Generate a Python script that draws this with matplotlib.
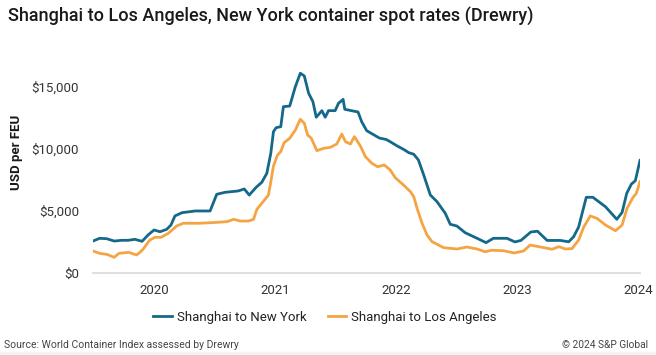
import matplotlib.pyplot as plt
import matplotlib.dates as mdates
import pandas as pd

plt.rcParams['font.family'] = ['Roboto', 'DejaVu Sans']

# weekly-ish readings, USD per FEU
ny_dates = ['2019-07-01', '2019-07-21', '2019-08-11', '2019-09-03', '2019-09-25', '2019-10-15',
            '2019-11-04', '2019-11-26', '2019-12-14', '2020-01-01', '2020-01-19', '2020-02-08',
            '2020-02-21', '2020-03-04', '2020-03-25', '2020-05-04', '2020-06-18', '2020-07-08',
            '2020-08-02', '2020-09-11', '2020-09-29', '2020-10-14', '2020-11-04', '2020-11-21',
            '2020-12-06', '2020-12-18', '2020-12-26', '2021-01-03', '2021-01-17', '2021-01-25',
            '2021-02-13', '2021-03-02', '2021-03-17', '2021-03-29', '2021-04-11', '2021-04-24',
            '2021-05-04', '2021-05-21', '2021-05-31', '2021-06-10', '2021-06-30', '2021-07-10',
            '2021-07-24', '2021-07-29', '2021-09-07', '2021-09-18', '2021-10-03', '2021-11-10',
            '2021-12-01', '2021-12-13', '2022-01-03', '2022-01-22', '2022-02-07', '2022-02-22',
            '2022-03-08', '2022-03-24', '2022-04-13', '2022-05-03', '2022-05-28', '2022-06-12',
            '2022-07-02', '2022-07-27', '2022-09-01', '2022-09-28', '2022-10-20', '2022-11-30',
            '2022-12-24', '2023-01-11', '2023-02-10', '2023-03-02', '2023-03-31', '2023-05-10',
            '2023-06-04', '2023-06-19', '2023-07-04', '2023-07-27', '2023-08-16', '2023-09-23',
            '2023-10-27', '2023-11-12', '2023-11-26', '2023-12-10', '2023-12-22', '2024-01-05']
ny_rates = [2570, 2790, 2760, 2570, 2630, 2630,
            2710, 2550, 3060, 3460, 3320, 3510,
            3860, 4590, 4850, 4990, 4990, 6330,
            6490, 6600, 6760, 6270, 6900, 7300,
            8020, 9630, 11370, 11690, 11770, 13380,
            13430, 14990, 16070, 15850, 14460, 13780,
            12530, 13060, 12530, 13060, 13060, 13650,
            13970, 13170, 12950, 12170, 11450, 10860,
            10740, 10560, 10220, 9950, 9680, 9550,
            9090, 7880, 6270, 5740, 4800, 3920,
            3780, 3240, 2790, 2440, 2790, 2790,
            2500, 2620, 3300, 3360, 2620, 2620,
            2510, 2920, 3700, 6090, 6090, 5330,
            4320, 4870, 6410, 7150, 7430, 9060]

la_dates = ['2019-07-01', '2019-07-21', '2019-08-12', '2019-09-03', '2019-09-17', '2019-10-17',
            '2019-11-09', '2019-11-16', '2019-11-29', '2019-12-19', '2020-01-04', '2020-01-22',
            '2020-02-13', '2020-03-09', '2020-03-29', '2020-05-14', '2020-06-24', '2020-08-08',
            '2020-08-28', '2020-09-17', '2020-10-12', '2020-10-27', '2020-11-06', '2020-12-11',
            '2020-12-19', '2020-12-26', '2021-01-07', '2021-01-17', '2021-01-27', '2021-02-13',
            '2021-03-02', '2021-03-17', '2021-03-29', '2021-04-08', '2021-04-19', '2021-05-06',
            '2021-05-26', '2021-06-16', '2021-07-05', '2021-07-20', '2021-07-31', '2021-08-15',
            '2021-08-27', '2021-09-14', '2021-09-29', '2021-10-19', '2021-11-05', '2021-11-25',
            '2021-12-13', '2021-12-28', '2022-01-22', '2022-02-12', '2022-02-22', '2022-03-04',
            '2022-03-19', '2022-04-03', '2022-04-18', '2022-05-23', '2022-07-02', '2022-08-01',
            '2022-09-01', '2022-09-25', '2022-10-15', '2022-11-20', '2022-12-22', '2023-01-19',
            '2023-02-08', '2023-03-06', '2023-04-15', '2023-05-05', '2023-05-25', '2023-06-14',
            '2023-07-04', '2023-07-19', '2023-08-08', '2023-08-28', '2023-09-23', '2023-10-23',
            '2023-11-12', '2023-11-27', '2023-12-15', '2023-12-25', '2024-01-05']
la_rates = [1770, 1580, 1500, 1260, 1580, 1660,
            1450, 1580, 1910, 2650, 2870, 2870,
            3190, 3780, 4000, 4000, 4050, 4130,
            4320, 4180, 4180, 4320, 5120, 6270,
            7480, 8600, 9490, 9760, 10480, 10840,
            11500, 12370, 12040, 11100, 10840, 9840,
            10030, 10110, 10380, 11180, 10560, 10380,
            10970, 10220, 9360, 8820, 8550, 8690,
            8290, 7670, 7080, 6540, 6140, 5200,
            4000, 3060, 2520, 2040, 1930, 2090,
            1930, 1710, 1830, 1790, 1610, 1770,
            2250, 2120, 1910, 2120, 1930, 1960,
            2650, 3680, 4590, 4400, 3860, 3400,
            3860, 5200, 6090, 6410, 7350]

y_ticks = [0, 5000, 10000, 15000]
y_labels = ['$0', '$5,000', '$10,000', '$15,000']
x_ticks = ['2020-01-01', '2021-01-01', '2022-01-01', '2023-01-01', '2024-01-01']

blue = '#14698a'
orange = '#f5a443'
text_c = '#1a1a1a'

fig = plt.figure(figsize=(6.56, 3.55), dpi=100)
ax = fig.add_axes([93 / 656, 1 - 273 / 355, (640 - 93) / 656, (273 - 70) / 355])

ax.plot(pd.to_datetime(ny_dates), ny_rates, color=blue, lw=2, label='Shanghai to New York')
ax.plot(pd.to_datetime(la_dates), la_rates, color=orange, lw=2, label='Shanghai to Los Angeles')

ax.set_xlim(pd.Timestamp('2019-07-01'), pd.Timestamp('2024-01-05'))
ax.set_ylim(0, 16330)
ax.set_yticks(y_ticks)
ax.set_yticklabels(y_labels)
ax.set_xticks(pd.to_datetime(x_ticks))
ax.xaxis.set_major_formatter(mdates.DateFormatter('%Y'))
ax.tick_params(axis='both', length=0, labelsize=9.5, colors='#333333')
ax.tick_params(axis='y', pad=10)
ax.tick_params(axis='x', pad=8)
for s in ['top', 'right', 'left']:
    ax.spines[s].set_visible(False)
ax.spines['bottom'].set_color('#e0e0e0')
ax.spines['bottom'].set_linewidth(1.5)

fig.text(8 / 656, 1 - 17 / 355, 'Shanghai to Los Angeles, New York container spot rates (Drewry)',
         fontsize=13, fontweight='medium', color=text_c, va='center', ha='left')
fig.text(17 / 656, 1 - 152 / 355, 'USD per FEU', rotation=90, fontsize=9.5, fontweight='bold',
         color=text_c, va='center', ha='center')

ax.legend(loc='center', bbox_to_anchor=(325 / 656, 1 - 317 / 355), bbox_transform=fig.transFigure,
          ncol=2, frameon=False, fontsize=9.5, handlelength=1.4, handletextpad=0.4,
          columnspacing=1.6, labelcolor='#222222')

fig.text(4 / 656, 1 - 345 / 355, 'Source: World Container Index assessed by Drewry',
         fontsize=7.5, color='#444444', va='center', ha='left')
fig.text(648 / 656, 1 - 345 / 355, '\u00a9 2024 S&P Global',
         fontsize=7.3, color='#444444', va='center', ha='right')
fig.patches.append(plt.Rectangle((0, 0), 1, 3 / 355, transform=fig.transFigure,
                                 color='#f3f3f3', zorder=-1))

fig.savefig('out.png', dpi=100)
